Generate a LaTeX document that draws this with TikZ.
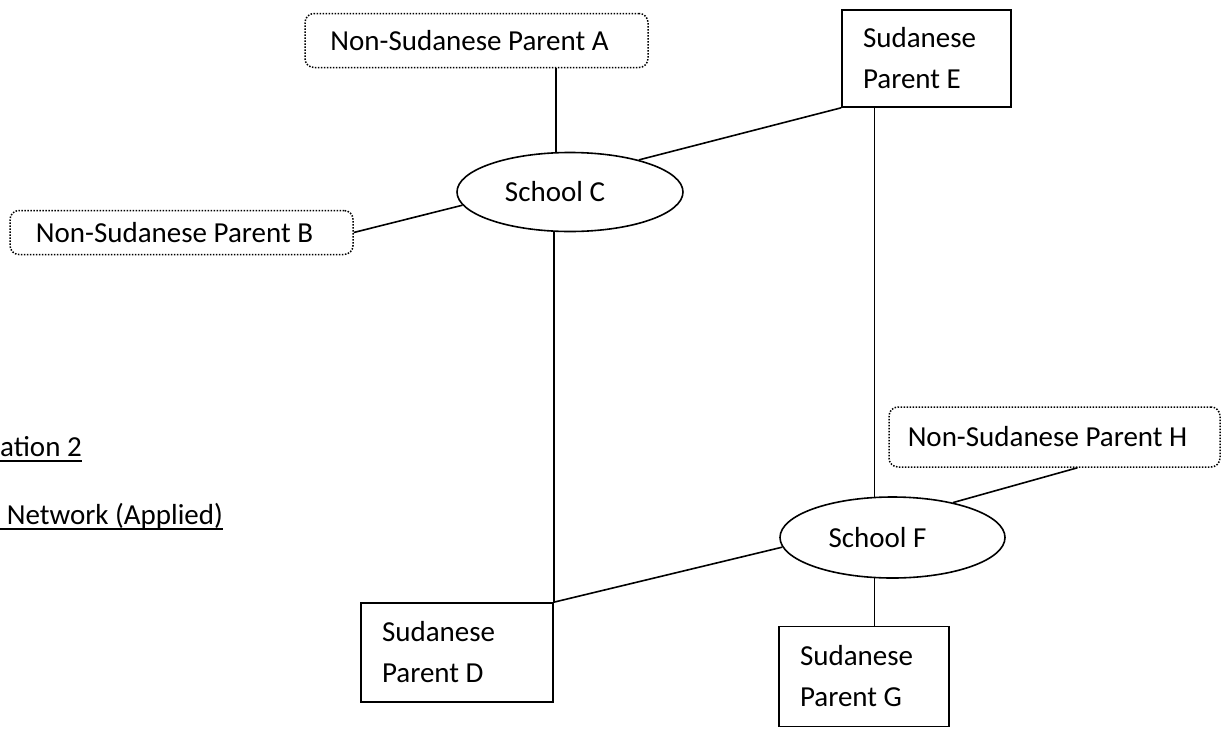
\documentclass[tikz,border=0pt]{standalone}
\usepackage{fontspec}
\setmainfont{Carlito}
\usetikzlibrary{shapes.geometric}
\begin{document}
\begin{tikzpicture}[x=1pt,y=-1pt,
  every node/.style={font=\fontsize{29}{41}\selectfont},
  link/.style={line width=1.6pt},
  nonsud/.style={draw, dash pattern=on 1.5pt off 1.5pt, line width=1.5pt, rounded corners=9pt, inner sep=0pt},
  sud/.style={draw, line width=1.6pt, inner xsep=21pt, inner ysep=0pt, align=flush left},
  school/.style={draw, ellipse, line width=1.6pt, inner sep=0pt},
  ul/.style={line width=1.4pt},
  caption/.style={anchor=base west, inner sep=0pt}]
\useasboundingbox (0,0) rectangle (1225,728);
% non-Sudanese parents
\node[nonsud, minimum width=343pt, minimum height=54pt] (A) at (476.5,40.5) {Non-Sudanese Parent A\hspace*{14pt}};
\node[nonsud, minimum width=343pt, minimum height=44pt] (B) at (181.5,232.5) {Non-Sudanese Parent B\hspace*{14pt}};
\node[nonsud, minimum width=331pt, minimum height=60pt] (H) at (1054.5,437) {Non-Sudanese Parent H\hspace*{14pt}};
% Sudanese parents
\node[sud, text width=127pt, minimum height=97pt] (E) at (926.5,58.5) {Sudanese\\Parent E};
\node[sud, text width=150pt, minimum height=99pt] (D) at (457,652.5) {Sudanese\\Parent D};
\node[sud, text width=128pt, minimum height=100pt] (G) at (864,676.5) {Sudanese\\Parent G};
% schools
\node[school, minimum width=226pt, minimum height=79pt] (C) at (570,192) {School C\hspace*{30pt}};
\node[school, minimum width=225pt, minimum height=81pt] (F) at (892.5,537.5) {School F\hspace*{30pt}};
% connectors
\draw[link] (A.south -| C.109) -- (C.109);
\draw[link] (B.east) -- (C.187);
\draw[link] (C.25) -- (E.south west);
\draw[link] (D.north east |- C.south) -- (D.north east);
\draw[link] (D.north east) -- (F.185);
\draw[link] (E.south -| F.114) -- (F.114);
\draw[link] (F.246) -- (F.246 |- G.north);
\draw[link] (F.30) -- ([xshift=23pt]H.south);
% captions (cut off at the left edge)
\node[caption] (L1) at (0,456) {ation 2};
\node[caption] (L2) at (0,524) {\hspace*{6.6pt}Network (Applied)};
\draw[ul] ([yshift=-5pt]L1.base west) -- ([yshift=-5pt]L1.base east);
\draw[ul] ([yshift=-5pt]L2.base west) -- ([yshift=-5pt]L2.base east);
\end{tikzpicture}
\end{document}
